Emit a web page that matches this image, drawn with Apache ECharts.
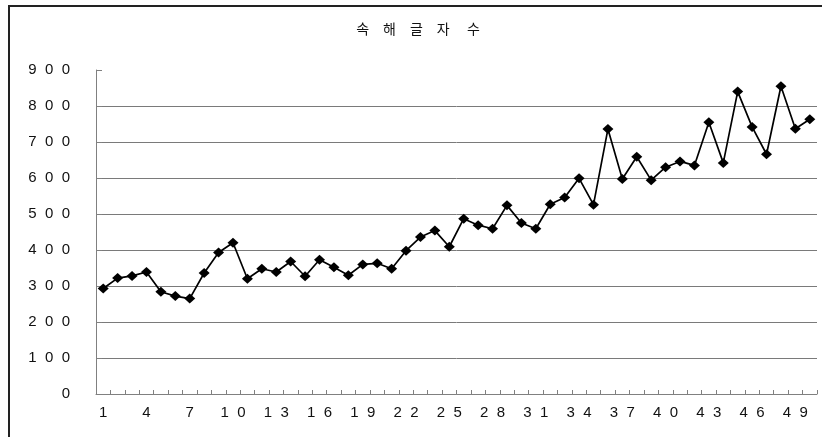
<!DOCTYPE html>
<html>
<head>
<meta charset="utf-8">
<script src="https://cdn.jsdelivr.net/npm/echarts@6/dist/echarts.min.js"></script>
<style>
  html, body { margin: 0; padding: 0; background: #fff; }
  #chart { width: 822px; height: 437px; }
</style>
</head>
<body>
<div id="chart"></div>
<script>
// Category numbers along the x axis (1..50)
const categories = ['1','2','3','4','5','6','7','8','9','10','11','12','13','14','15','16','17','18','19','20',
  '21','22','23','24','25','26','27','28','29','30','31','32','33','34','35','36','37','38','39','40',
  '41','42','43','44','45','46','47','48','49','50'];

// 속해 글자 수 per category
const charCounts = [293, 322, 328, 339, 284, 272, 265, 336, 393, 420,
  320, 348, 339, 368, 327, 373, 352, 330, 360, 363,
  348, 398, 436, 454, 409, 487, 469, 459, 524, 475,
  459, 527, 546, 599, 526, 736, 597, 659, 594, 630,
  646, 635, 755, 642, 840, 742, 666, 855, 737, 763];

// Y axis tick labels, drawn with spread-out digits
const yTickLabels = ['0', '1  0  0', '2  0  0', '3  0  0', '4  0  0', '5  0  0', '6  0  0', '7  0  0', '8  0  0', '9  0  0'];

const titleText = '속　해　글　자　 수';

// Spread the digits of an x label apart
function spreadDigits(s) { return s.split('').join('  '); }

const chart = echarts.init(document.getElementById('chart'), null, { renderer: 'canvas' });

chart.setOption({
  backgroundColor: '#ffffff',
  animation: false,
  title: {
    text: titleText,
    left: 413,
    textAlign: 'center',
    top: 17,
    textStyle: {
      fontFamily: '"Noto Sans CJK KR", sans-serif',
      fontSize: 14,
      fontWeight: 'normal',
      color: '#111'
    }
  },
  graphic: [{
    type: 'rect',
    shape: { x: 9, y: 6, width: 900, height: 500 },
    style: { fill: 'none', stroke: '#222', lineWidth: 2 },
    silent: true
  }],
  grid: { left: 96, right: 5, top: 70, bottom: 43 },
  xAxis: {
    type: 'category',
    data: categories,
    boundaryGap: true,
    axisLine: { lineStyle: { color: '#808080', width: 1 } },
    axisTick: { show: true, inside: true, length: 4, interval: 0, lineStyle: { color: '#808080' } },
    axisLabel: {
      interval: 2,
      margin: 11,
      color: '#111',
      fontFamily: '"Liberation Sans", Arial, sans-serif',
      fontSize: 15,
      formatter: spreadDigits
    },
    splitLine: { show: false }
  },
  yAxis: {
    type: 'value',
    min: 0,
    max: 900,
    interval: 100,
    axisLine: { show: true, lineStyle: { color: '#808080', width: 1 } },
    axisTick: { show: true, inside: true, length: 6, lineStyle: { color: '#808080' } },
    axisLabel: {
      margin: 26,
      color: '#111',
      fontFamily: '"Liberation Sans", Arial, sans-serif',
      fontSize: 15,
      formatter: function (v) { return yTickLabels[Math.round(v / 100)]; }
    },
    splitLine: {
      show: true,
      lineStyle: { color: '#7a7a7a', width: 1 },
      showMaxLine: false
    }
  },
  series: [{
    type: 'line',
    data: charCounts,
    symbol: 'diamond',
    symbolSize: [11, 10],
    showAllSymbol: true,
    lineStyle: { color: '#000', width: 1.7 },
    itemStyle: { color: '#000' }
  }]
});
</script>
</body>
</html>
